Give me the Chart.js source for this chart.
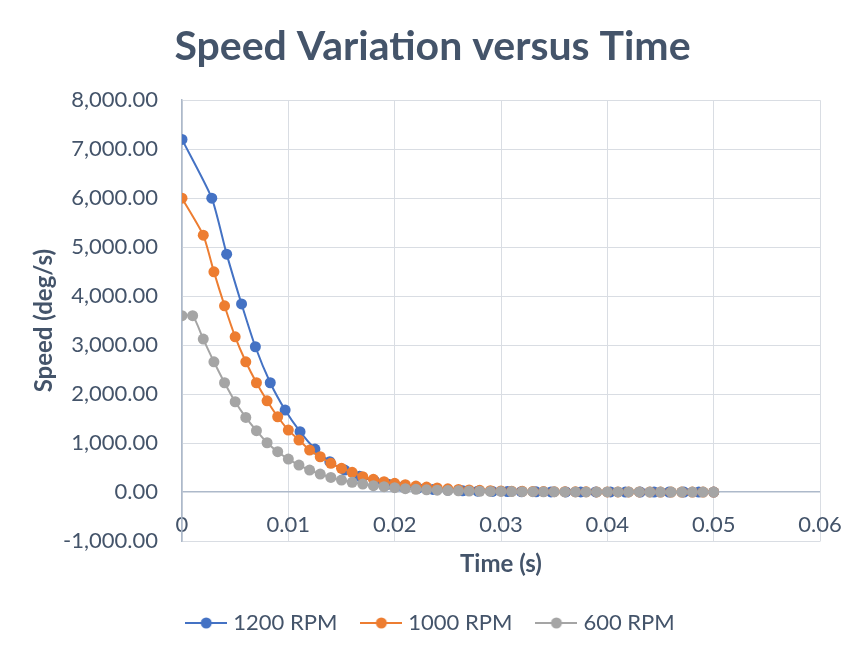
<!DOCTYPE html>
<html>
<head>
<meta charset="utf-8">
<script src="https://cdn.jsdelivr.net/npm/chart.js@4.4.0/dist/chart.umd.min.js"></script>
<style>
  html, body { margin: 0; padding: 0; background: #fff; }
  #wrap { width: 865px; height: 657px; position: relative; }
</style>
</head>
<body>
<div id="wrap"><canvas id="chart"></canvas></div>
<script>
// Speed (deg/s), per series with its own time base (s)
const time1200 = [0, 0.0028, 0.0042, 0.0056, 0.0069, 0.0083, 0.0097, 0.0111, 0.0125, 0.0139,
  0.0153, 0.0167, 0.0181, 0.0194, 0.0208, 0.0222, 0.0236, 0.025, 0.0264, 0.0278,
  0.0292, 0.0306, 0.0319, 0.0333, 0.0347, 0.0361, 0.0375, 0.0389, 0.0403, 0.0417,
  0.0431, 0.0444, 0.0458, 0.0472, 0.0486, 0.05];
const speed1200 = [7200, 6000, 4857, 3840, 2966, 2231, 1673, 1231, 878, 619,
  449, 320, 225, 160, 112, 78, 54, 38, 26, 18,
  12, 9, 6, 4, 3, 2, 1, 1, 1, 0,
  0, 0, 0, 0, 0, 0];

const time1000 = [0, 0.002, 0.003, 0.004, 0.005, 0.006, 0.007, 0.008, 0.009, 0.01,
  0.011, 0.012, 0.013, 0.014, 0.015, 0.016, 0.017, 0.018, 0.019, 0.02,
  0.021, 0.022, 0.023, 0.024, 0.025, 0.026, 0.027, 0.028, 0.029, 0.03,
  0.031, 0.032, 0.033, 0.034, 0.035, 0.036, 0.037, 0.038, 0.039, 0.04,
  0.041, 0.042, 0.043, 0.044, 0.045, 0.046, 0.047, 0.048, 0.049, 0.05];
const speed1000 = [6000, 5245, 4496, 3802, 3169, 2659, 2231, 1863, 1537, 1265,
  1061, 857, 720, 586, 484, 402, 312, 259, 210, 178,
  150, 122, 100, 82, 66, 53, 43, 35, 28, 22,
  18, 14, 11, 9, 7, 6, 5, 4, 3, 2,
  2, 1, 1, 1, 0, 0, 0, 0, 0, 0];

const time600 = [0, 0.001, 0.002, 0.003, 0.004, 0.005, 0.006, 0.007, 0.008, 0.009, 0.01,
  0.011, 0.012, 0.013, 0.014, 0.015, 0.016, 0.017, 0.018, 0.019, 0.02,
  0.021, 0.022, 0.023, 0.024, 0.025, 0.026, 0.027, 0.028, 0.029, 0.03,
  0.031, 0.032, 0.033, 0.034, 0.035, 0.036, 0.037, 0.038, 0.039, 0.04,
  0.041, 0.042, 0.043, 0.044, 0.045, 0.046, 0.047, 0.048, 0.049, 0.05];
const speed600 = [3600, 3600, 3122, 2659, 2231, 1843, 1524, 1252, 1006, 823, 673,
  551, 449, 367, 299, 245, 197, 163, 130, 108, 88,
  68, 55, 45, 37, 30, 24, 20, 16, 13, 11,
  9, 7, 6, 5, 4, 3, 3, 2, 2, 1,
  1, 1, 1, 0, 0, 0, 0, 0, 0, 0];

const seriesNames = ['1200 RPM', '1000 RPM', '600 RPM'];
const seriesColors = ['#4472C4', '#ED7D31', '#A5A5A5'];

const TEXT = '#44546A';
const GRID = '#D9DDE3';
const AXIS = '#ADB9CA';
const FONT = 'Lato, "Open Sans", sans-serif';

function pairs(xs, ys) {
  return xs.map((x, i) => ({ x, y: ys[i] }));
}

// legend swatch: short line with a marker in the middle, Excel style
function legendMark(color) {
  const c = document.createElement('canvas');
  c.width = 42; c.height = 14;
  const g = c.getContext('2d');
  g.strokeStyle = color; g.lineWidth = 2;
  g.beginPath(); g.moveTo(0, 7); g.lineTo(42, 7); g.stroke();
  g.fillStyle = color;
  g.beginPath(); g.arc(21, 7, 5.5, 0, Math.PI * 2); g.fill();
  return c;
}

const allData = [pairs(time1200, speed1200), pairs(time1000, speed1000), pairs(time600, speed600)];

const datasets = seriesNames.map((name, i) => ({
  label: name,
  data: allData[i],
  borderColor: seriesColors[i],
  backgroundColor: seriesColors[i],
  pointBackgroundColor: seriesColors[i],
  pointBorderColor: seriesColors[i],
  pointRadius: 5.5,
  pointBorderWidth: 0,
  borderWidth: 2,
  tension: 0.2,
  pointStyle: 'circle',
  order: 3 - i
}));

const marks = seriesColors.map(legendMark);

new Chart(document.getElementById('chart'), {
  type: 'line',
  data: { datasets },
  options: {
    responsive: true,
    maintainAspectRatio: false,
    animation: false,
    layout: { padding: { left: 0, right: 0, top: 0, bottom: 13 } },
    plugins: {
      title: {
        display: true,
        text: 'Speed Variation versus Time',
        color: TEXT,
        font: { family: FONT, size: 41, weight: 'bold' },
        padding: { top: 22, bottom: 29 }
      },
      legend: {
        position: 'bottom',
        labels: {
          color: TEXT,
          font: { family: FONT, size: 22 },
          usePointStyle: true,
          pointStyleWidth: 32,
          padding: 28,
          generateLabels: (chart) => chart.data.datasets.map((ds, i) => ({
            text: ds.label,
            pointStyle: marks[i],
            fillStyle: ds.borderColor,
            strokeStyle: ds.borderColor,
            fontColor: TEXT,
            lineWidth: 0,
            hidden: false,
            datasetIndex: i
          }))
        }
      },
      tooltip: { enabled: false }
    },
    scales: {
      x: {
        type: 'linear',
        min: 0,
        max: 0.06,
        afterFit: (s) => { s.height = 43; },
        ticks: {
          stepSize: 0.01,
          color: TEXT,
          font: { family: FONT, size: 22 },
          mirror: true,
          padding: 3,
          maxRotation: 0,
          callback: (v) => v === 0 ? '0' : String(+v.toFixed(2))
        },
        grid: {
          drawTicks: false,
          color: (ctx) => ctx.tick && ctx.tick.value === 0 ? AXIS : GRID,
          lineWidth: (ctx) => ctx.tick && ctx.tick.value === 0 ? 1.5 : 1
        },
        border: { color: GRID },
        title: {
          display: true,
          text: 'Time (s)',
          color: TEXT,
          font: { family: FONT, size: 24, weight: 'bold' },
          padding: { top: 0, bottom: 5 }
        }
      },
      y: {
        min: -1000,
        max: 8000,
        afterFit: (s) => { s.width = 182; },
        ticks: {
          stepSize: 1000,
          color: TEXT,
          font: { family: FONT, size: 22 },
          padding: 24,
          callback: (v) => v.toLocaleString('en-US', { minimumFractionDigits: 2, maximumFractionDigits: 2 })
        },
        grid: {
          drawTicks: false,
          color: (ctx) => ctx.tick && ctx.tick.value === 0 ? AXIS : GRID,
          lineWidth: (ctx) => ctx.tick && ctx.tick.value === 0 ? 1.5 : 1
        },
        border: { color: AXIS, width: 1.5 },
        title: {
          display: true,
          text: 'Speed (deg/s)',
          color: TEXT,
          font: { family: FONT, size: 24, weight: 'bold' },
          padding: { top: 30, bottom: 0 }
        }
      },
      // empty right-hand box, keeps the plot clear of the right edge
      yRight: {
        position: 'right',
        afterFit: (s) => { s.width = 45; },
        ticks: { display: false },
        grid: { display: false },
        border: { display: false }
      }
    }
  }
});
</script>
</body>
</html>
